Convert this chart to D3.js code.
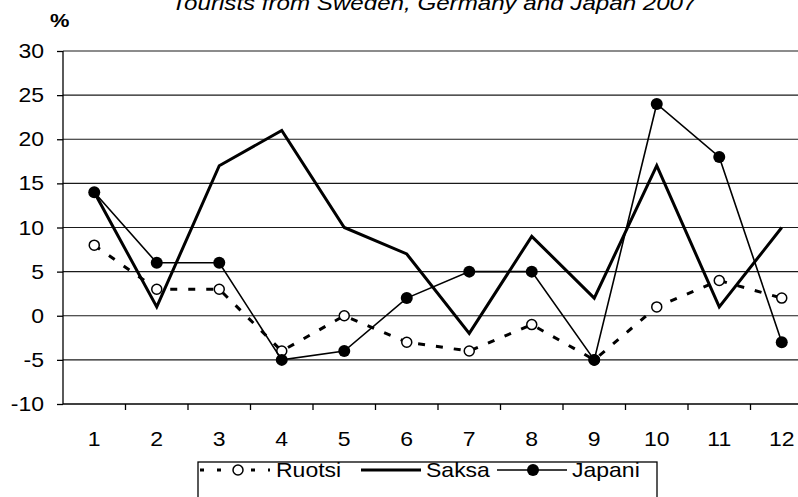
<!DOCTYPE html>
<html>
<head>
<meta charset="utf-8">
<script src="https://cdn.jsdelivr.net/npm/d3@7"></script>
<style>
  html, body { margin: 0; padding: 0; background: #fff; }
  svg { display: block; overflow: hidden; }
  text { font-family: "Liberation Sans", Arial, sans-serif; fill: #000; }
</style>
</head>
<body>
<div id="chart"></div>
<script>
// Chart data
const months = [1, 2, 3, 4, 5, 6, 7, 8, 9, 10, 11, 12];
const ruotsi = [8, 3, 3, -4, 0, -3, -4, -1, -5, 1, 4, 2];
const saksa = [14, 1, 17, 21, 10, 7, -2, 9, 2, 17, 1, 10];
const japani = [14, 6, 6, -5, -4, 2, 5, 5, -5, 24, 18, -3];
const yTicks = [-10, -5, 0, 5, 10, 15, 20, 25, 30];
const title = 'Tourists from Sweden, Germany and Japan 2007';

const width = 798;
const height = 497;
const margin = { top: 51, left: 63, bottom: 93 };
const bandW = 62.5;
const sx = 1.15; // the picture is a bit wider than tall

const svg = d3
  .select('#chart')
  .append('svg')
  .attr('width', width)
  .attr('height', height);

// Scales
const x = d3
  .scaleBand()
  .domain(months)
  .range([margin.left, margin.left + bandW * months.length]);
const y = d3
  .scaleLinear()
  .domain([-10, 30])
  .range([height - margin.bottom, margin.top]);

// text helper, stretched horizontally
const label = (g, tx, ty, str, size, anchor, weight, style) =>
  g
    .append('text')
    .attr('transform', `translate(${tx},${ty}) scale(${sx},1)`)
    .attr('text-anchor', anchor || 'start')
    .attr('font-size', size)
    .attr('font-weight', weight || 'normal')
    .attr('font-style', style || 'normal')
    .text(str);

// Title (cut off at top, as in the original)
label(svg, 434, 10, title, 21, 'middle', 'normal', 'italic');
label(svg, 50, 27, '%', 19, 'start', 'bold');

// Gridlines
svg
  .append('g')
  .selectAll('line')
  .data(yTicks.filter((d) => d !== -10))
  .join('line')
  .attr('x1', margin.left)
  .attr('x2', width)
  .attr('y1', (d) => y(d))
  .attr('y2', (d) => y(d))
  .attr('stroke', '#1a1a1a')
  .attr('stroke-width', 1.2);

// Y axis
const yAxis = svg
  .append('g')
  .attr('transform', `translate(${margin.left},0)`)
  .call(d3.axisLeft(y).tickValues(yTicks).tickSize(6).tickFormat(''));
yAxis.selectAll('path, line').attr('stroke', '#000').attr('stroke-width', 1.3);
yAxis.select('.domain').attr('d', `M0,${y(30)}V${y(-10)}`);
const yLab = svg.append('g');
yTicks.forEach((t) => label(yLab, 44, y(t) + 7, t, 20, 'end'));

// X axis with ticks on band boundaries
const xAxisG = svg.append('g');
xAxisG
  .append('line')
  .attr('x1', margin.left)
  .attr('x2', width)
  .attr('y1', y(-10))
  .attr('y2', y(-10))
  .attr('stroke', '#000')
  .attr('stroke-width', 1.3);
xAxisG
  .selectAll('.tk')
  .data(months)
  .join('line')
  .attr('class', 'tk')
  .attr('x1', (d) => x(d) + x.bandwidth())
  .attr('x2', (d) => x(d) + x.bandwidth())
  .attr('y1', y(-10))
  .attr('y2', y(-10) + 6)
  .attr('stroke', '#000')
  .attr('stroke-width', 1.3);
months.forEach((m) => label(xAxisG, x(m) + x.bandwidth() / 2, 446, m, 20, 'middle'));

const cx = (d, i) => x(months[i]) + x.bandwidth() / 2;
const line = d3.line().x(cx).y((d) => y(d));

// Ruotsi - dashed, open circles
svg
  .append('path')
  .datum(ruotsi)
  .attr('d', line)
  .attr('fill', 'none')
  .attr('stroke', '#000')
  .attr('stroke-width', 3)
  .attr('stroke-dasharray', '7,11');
svg
  .append('g')
  .selectAll('circle')
  .data(ruotsi)
  .join('circle')
  .attr('cx', cx)
  .attr('cy', (d) => y(d))
  .attr('r', 5)
  .attr('fill', '#fff')
  .attr('stroke', '#000')
  .attr('stroke-width', 1.5);

// Saksa - thick solid
svg
  .append('path')
  .datum(saksa)
  .attr('d', line)
  .attr('fill', 'none')
  .attr('stroke', '#000')
  .attr('stroke-width', 3);

// Japani - thin solid, filled circles
svg
  .append('path')
  .datum(japani)
  .attr('d', line)
  .attr('fill', 'none')
  .attr('stroke', '#000')
  .attr('stroke-width', 1.6);
svg
  .append('g')
  .selectAll('circle')
  .data(japani)
  .join('circle')
  .attr('cx', cx)
  .attr('cy', (d) => y(d))
  .attr('r', 6)
  .attr('fill', '#000');

// Legend
const leg = svg.append('g');
leg
  .append('rect')
  .attr('x', 198)
  .attr('y', 462)
  .attr('width', 459)
  .attr('height', 60)
  .attr('fill', '#fff')
  .attr('stroke', '#000')
  .attr('stroke-width', 1.3);
const ly = 470;
leg.append('line').attr('x1', 200).attr('x2', 270).attr('y1', ly).attr('y2', ly)
  .attr('stroke', '#000').attr('stroke-width', 3).attr('stroke-dasharray', '4,13');
leg.append('circle').attr('cx', 238).attr('cy', ly).attr('r', 5)
  .attr('fill', '#fff').attr('stroke', '#000').attr('stroke-width', 1.5);
label(leg, 276, 477, 'Ruotsi', 20);
leg.append('line').attr('x1', 361).attr('x2', 421).attr('y1', ly).attr('y2', ly)
  .attr('stroke', '#000').attr('stroke-width', 3);
label(leg, 426, 477, 'Saksa', 20);
leg.append('line').attr('x1', 497).attr('x2', 567).attr('y1', ly).attr('y2', ly)
  .attr('stroke', '#000').attr('stroke-width', 1.6);
leg.append('circle').attr('cx', 533).attr('cy', ly).attr('r', 6).attr('fill', '#000');
label(leg, 572, 477, 'Japani', 20);
</script>
</body>
</html>
